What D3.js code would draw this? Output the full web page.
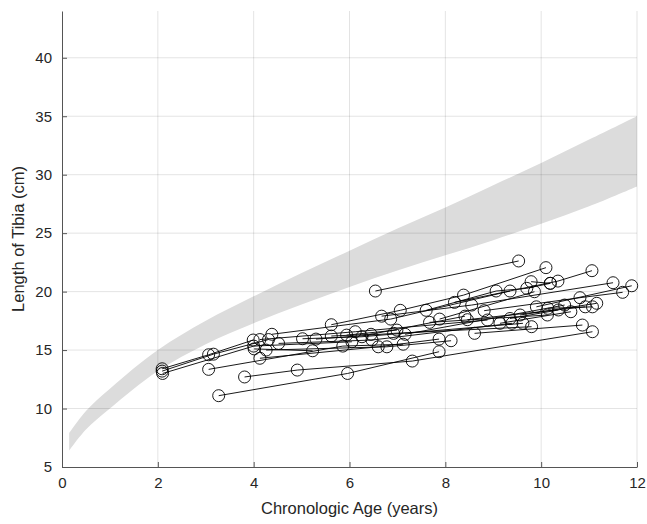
<!DOCTYPE html>
<html>
<head>
<meta charset="utf-8">
<script src="https://cdn.jsdelivr.net/npm/d3@7"></script>
<style>
  body { margin: 0; background: #fff; }
  svg { font-family: "Liberation Sans", Arial, sans-serif; }
  .tick text { fill: #262626; font-size: 15px; }
</style>
</head>
<body>
<div id="chart"></div>
<script>
// reference band (normal tibia length range)
const bandAge   = [0.15, 0.5, 1, 2, 3, 4, 5, 6, 7, 8, 9, 10, 11, 12];
const bandUpper = [7.9, 9.8, 11.7, 15.0, 17.5, 19.6, 21.6, 23.5, 25.4, 27.2, 29.1, 31.0, 33.0, 35.0];
const bandLower = [6.4, 8.2, 10.0, 13.2, 15.5, 17.3, 18.9, 20.4, 21.8, 23.1, 24.4, 25.8, 27.3, 29.0];

// one array of [age, length] per patient
const patients = [
  [[6.54, 20.05], [9.53, 22.62]],
  [[5.62, 17.17], [7.06, 18.4], [8.38, 19.7], [10.1, 22.05]],
  [[8.19, 19.08], [10.35, 20.9], [11.06, 21.79]],
  [[6.67, 17.9], [8.55, 18.85], [11.5, 20.76]],
  [[7.6, 18.4], [9.06, 20.05], [9.7, 20.28], [10.19, 20.71]],
  [[9.79, 20.85], [10.19, 20.71]],
  [[4.38, 16.35], [6.86, 17.65], [9.35, 20.05]],
  [[7.88, 17.65], [9.86, 19.99]],
  [[9.9, 18.7], [11.89, 20.5]],
  [[8.81, 18.37], [10.81, 19.48], [11.7, 19.94]],
  [[9.56, 18.0], [11.16, 19.0]],
  [[10.14, 18.57], [11.07, 18.7]],
  [[8.46, 17.6], [10.92, 18.7]],
  [[9.14, 17.29], [10.62, 18.28]],
  [[7.16, 16.35], [10.49, 18.85]],
  [[9.35, 17.7], [10.36, 18.43]],
  [[7.67, 17.37], [10.13, 18.0]],
  [[8.61, 16.43], [10.86, 17.14]],
  [[3.81, 12.7], [4.91, 13.29], [7.31, 14.06], [11.07, 16.57]],
  [[3.27, 11.1], [5.96, 13.0], [7.87, 14.86]],
  [[2.09, 13.4], [3.06, 14.6], [3.99, 15.86]],
  [[2.09, 13.2], [3.16, 14.65], [4.31, 15.9]],
  [[2.1, 13.0], [4.0, 15.34], [6.05, 15.71]],
  [[3.06, 13.35], [5.86, 15.34], [7.12, 15.5]],
  [[4.01, 15.1], [5.23, 14.94]],
  [[4.13, 15.9], [6.12, 16.57], [8.88, 17.57]],
  [[4.13, 14.3], [6.6, 15.28], [7.87, 15.94]],
  [[4.26, 15.0], [6.78, 15.28], [8.12, 15.8]],
  [[4.52, 15.57], [6.47, 15.86], [9.39, 17.29]],
  [[5.02, 15.97], [6.26, 16.14], [9.62, 17.29]],
  [[5.3, 15.94], [6.92, 16.43], [9.8, 17.0]],
  [[5.62, 16.2], [6.45, 16.35], [8.41, 17.9]],
  [[5.94, 16.28], [6.99, 16.71]]
];

const xTicks = [0, 2, 4, 6, 8, 10, 12];
const yTicks = [5, 10, 15, 20, 25, 30, 35, 40];

const W = 647, H = 524;
const margin = { top: 11, right: 10, bottom: 57, left: 62 },
  width = W - margin.left - margin.right,
  height = H - margin.top - margin.bottom;

const x = d3.scaleLinear().domain([0, 12]).range([0, width]);
const y = d3.scaleLinear().domain([5, 44]).range([height, 0]);

const svg = d3.select("#chart").append("svg")
  .attr("width", W)
  .attr("height", H);
const g = svg.append("g")
  .attr("transform", "translate(" + margin.left + "," + margin.top + ")");

// grey band first, grid is drawn over it
const area = d3.area()
  .x((d, i) => x(bandAge[i]))
  .y0((d, i) => y(bandLower[i]))
  .y1((d, i) => y(bandUpper[i]))
  .curve(d3.curveCatmullRom);
g.append("path")
  .datum(bandAge)
  .attr("fill", "#dcdcdc")
  .attr("d", area);

// grid
g.append("g").selectAll("line")
  .data(xTicks.slice(1))
  .enter().append("line")
  .attr("x1", d => x(d)).attr("x2", d => x(d))
  .attr("y1", 0).attr("y2", height)
  .attr("stroke", "rgba(0,0,0,0.11)");
g.append("g").selectAll("line")
  .data(yTicks.slice(1))
  .enter().append("line")
  .attr("x1", 0).attr("x2", width)
  .attr("y1", d => y(d)).attr("y2", d => y(d))
  .attr("stroke", "rgba(0,0,0,0.11)");

// patient trajectories
const line = d3.line().x(d => x(d[0])).y(d => y(d[1]));
const pg = g.append("g");
patients.forEach(p => {
  pg.append("path")
    .attr("d", line(p))
    .attr("fill", "none")
    .attr("stroke", "#000")
    .attr("stroke-width", 0.9);
  pg.selectAll(null)
    .data(p)
    .enter().append("circle")
    .attr("cx", d => x(d[0]))
    .attr("cy", d => y(d[1]))
    .attr("r", 6)
    .attr("fill", "none")
    .attr("stroke", "#000")
    .attr("stroke-width", 0.9);
});

// axes, ticks pointing inward like matlab
const xAxis = g.append("g")
  .attr("transform", "translate(0," + height + ")")
  .call(d3.axisBottom(x).tickValues(xTicks).tickSize(-5).tickPadding(10).tickSizeOuter(0));
const yAxis = g.append("g")
  .call(d3.axisLeft(y).tickValues(yTicks).tickSize(-5).tickPadding(10).tickSizeOuter(0));
[xAxis, yAxis].forEach(a => {
  a.select(".domain").attr("stroke", "#555");
  a.selectAll(".tick line").attr("stroke", "#555");
  a.selectAll(".tick text").attr("fill", "#262626").style("font-size", "15px");
});

svg.append("text")
  .attr("x", margin.left + width / 2)
  .attr("y", 514)
  .attr("text-anchor", "middle")
  .attr("fill", "#262626")
  .style("font-size", "16.5px")
  .text("Chronologic Age (years)");

svg.append("text")
  .attr("transform", "translate(24," + (margin.top + height / 2) + ") rotate(-90)")
  .attr("text-anchor", "middle")
  .attr("fill", "#262626")
  .style("font-size", "16.5px")
  .text("Length of Tibia (cm)");
</script>
</body>
</html>
